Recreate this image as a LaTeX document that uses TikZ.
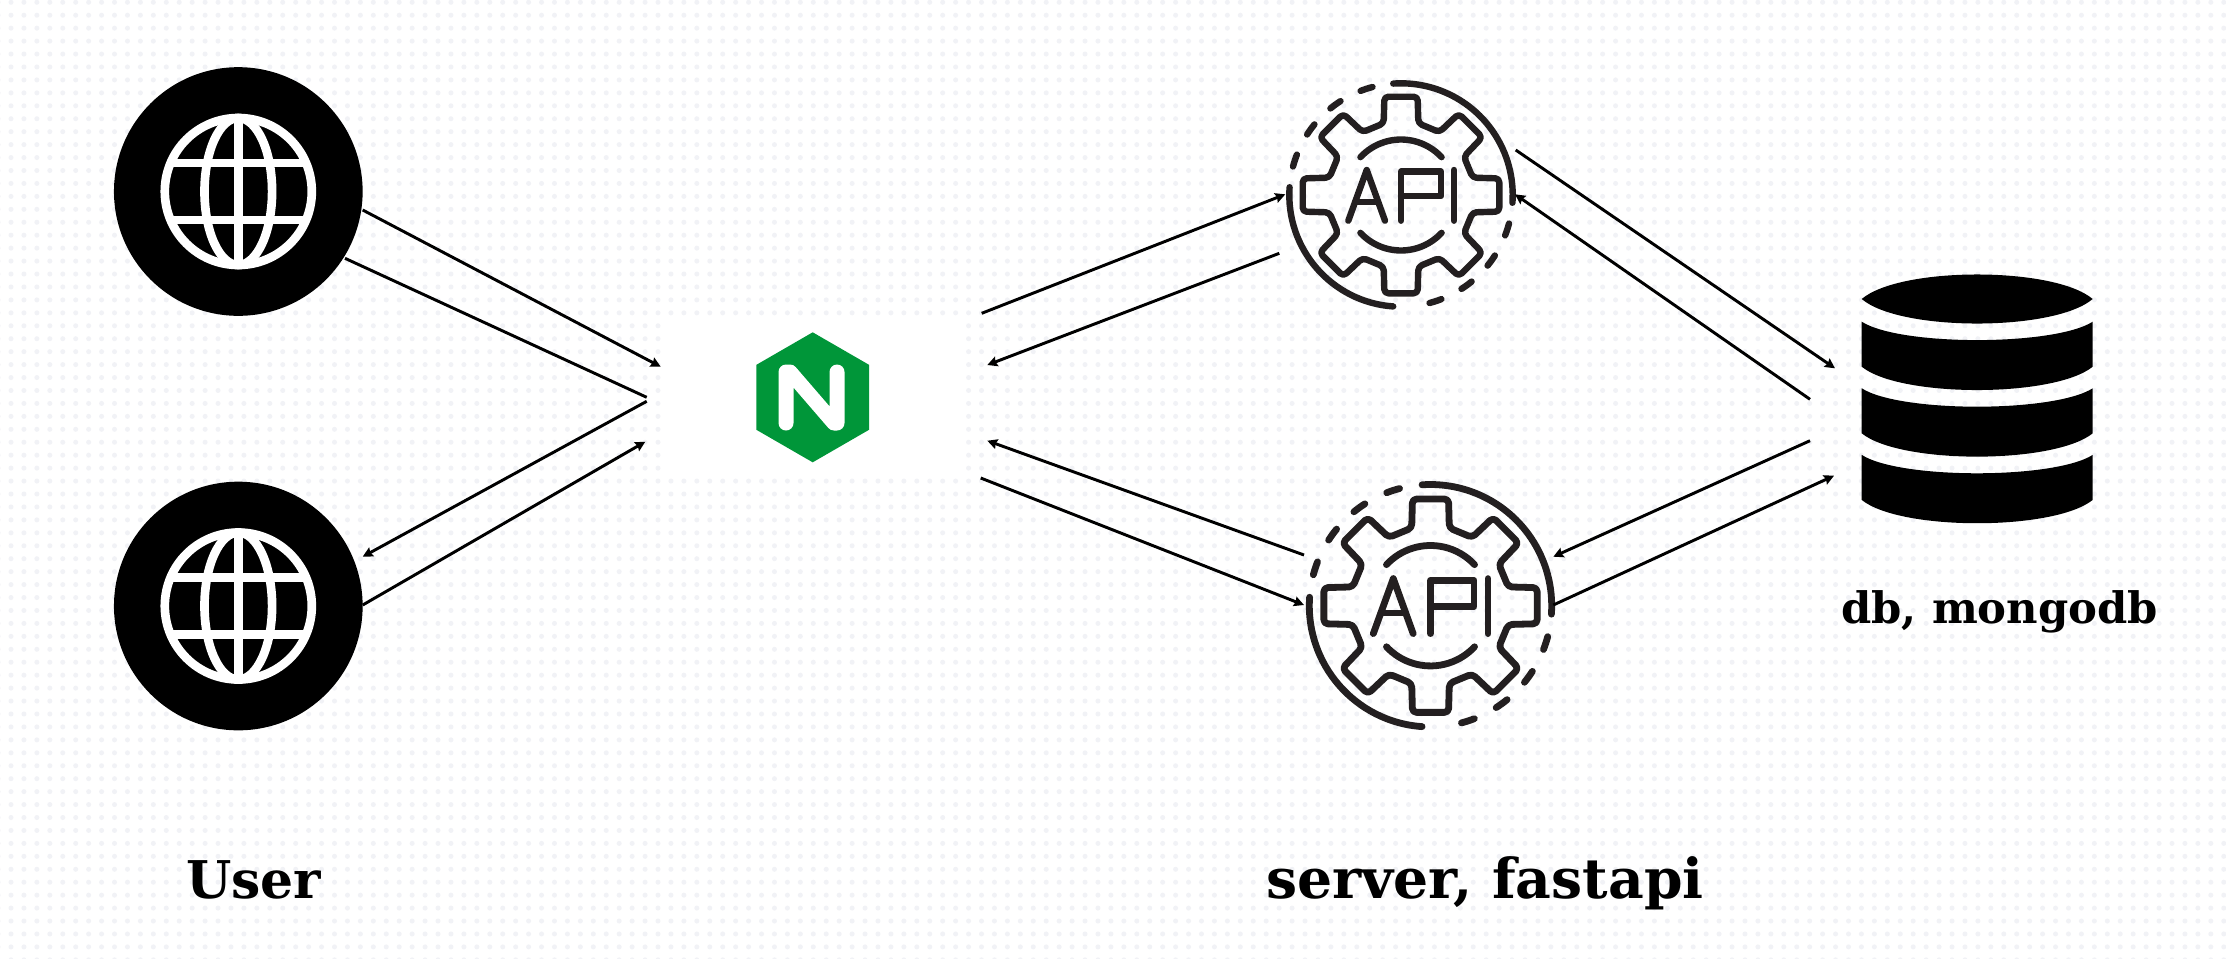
\documentclass[tikz,border=0pt]{standalone}
\usepackage{xcolor}
\usepackage{fontspec}
\setmainfont{DejaVu Serif}
\usetikzlibrary{arrows.meta,shapes.geometric,patterns}

\definecolor{griddotcol}{RGB}{241,242,246}
\definecolor{icondark}{RGB}{35,31,32}
\definecolor{nginxgreen}{RGB}{0,150,57}

\pgfdeclarepatternformonly{griddots}{\pgfqpoint{6pt}{6pt}}{\pgfqpoint{11pt}{11pt}}{\pgfqpoint{9.705pt}{9.705pt}}{
  \pgfpathcircle{\pgfqpoint{8.25pt}{8.32pt}}{1.875pt}
  \pgfusepath{fill}
}

\tikzset{
  griddot/.style={pattern=griddots,pattern color=griddotcol},
  userdisk/.style={circle,fill=black,inner sep=0pt,outer sep=0pt,minimum size=186.5pt},
  proxyhex/.style={regular polygon,regular polygon sides=6,shape border rotate=30,fill=nginxgreen,inner sep=0pt,outer sep=0pt,minimum size=97.5pt},
  flow/.style={line width=2.2pt,black},
  flowtip/.style={flow,-{Stealth[length=7.5pt,width=7.5pt,inset=1pt]}},
  globeline/.style={white,line width=6.5pt},
  iconline/.style={icondark,line width=4.8pt,line cap=round,line join=round},
  biglabel/.style={anchor=base west,inner sep=0pt,font=\fontsize{41.4}{46}\selectfont\bfseries},
  userlbl/.style={anchor=base west,inner sep=0pt,font=\fontsize{39}{44}\selectfont\bfseries},
  smalllabel/.style={anchor=base west,inner sep=0pt,font=\fontsize{32.5}{38}\selectfont\bfseries},
  globeicon/.pic={
    \draw[globeline] (0,0) circle (73.5);
    \draw[globeline] (0,0) ellipse (33.8 and 73.5);
    \draw[globeline] (0,-73.5) -- (0,73.5);
    \draw[globeline] (-67.7,-28.5) -- (67.7,-28.5);
    \draw[globeline] (-67.7,28.5) -- (67.7,28.5);
  },
  apiicon/.pic={
    %gear
    \draw[iconline,rounded corners=3pt] (103.6:73.7) -- (99.6:99.7) -- (80.4:99.7) -- (76.4:73.7)
      foreach \a in {-45,-90,...,-315} { -- ({\a+103.6}:73.7) -- ({\a+99.6}:99.7) -- ({\a+80.4}:99.7) -- ({\a+76.4}:73.7)} -- cycle;
    %inner arcs
    \draw[iconline] (137:55.5) arc[start angle=137,end angle=43,radius=55.5];
    \draw[iconline] (223:55.5) arc[start angle=223,end angle=317,radius=55.5];
    %outer ring
    \draw[iconline] (94:111.7) arc[start angle=94,end angle=-4,radius=111.7];
    \draw[iconline] (176:111.7) arc[start angle=176,end angle=266,radius=111.7];
    \foreach \a in {108,126,144,162,288,306,324,342}
      \draw[iconline] ({\a-3.2}:111.7) arc[start angle=\a-3.2,end angle=\a+3.2,radius=111.7];
    %letters
    \draw[iconline] (-52.7,-25.7) -- (-34.3,25) -- (-16,-25.7);
    \draw[iconline] (-45.7,-6.7) -- (-23,-6.7);
    \draw[iconline] (0,-25.7) -- (0,23.5) -- (40,23.5) -- (40,-1) -- (0,-1);
    \draw[iconline] (53,-25.7) -- (53,25);
  }
}

\begin{document}
\begin{tikzpicture}[x=0.75pt,y=0.75pt,yscale=-1,xscale=1]
\useasboundingbox (0,0) rectangle (2226,958);

%dotted page
\fill[white] (0,0) rectangle (2226,958);
\fill[griddot] (0,0) rectangle (2226,958);
\fill[white] (662,320) rectangle (964,475);

%Users
\node[userdisk] (user1) at (238.3,191.5) {};
\node[userdisk] (user2) at (238.3,606) {};
\pic at (user1) {globeicon};
\pic at (user2) {globeicon};

%Proxy
\node[proxyhex] (proxy) at (812.7,397.3) {};
\draw[white,line width=11.25pt,line cap=round,line join=round] (786,423) -- (786,372) -- (790,372) -- (834,423) -- (837,423) -- (837,372);

%Api
\coordinate (api1) at (1401,195);
\coordinate (api2) at (1430.5,605.7);
\pic at (api1) {apiicon};
\pic[scale=1.085,iconline/.append style={line width=5.1pt}] at (api2) {apiicon};

%Database
\coordinate (store) at (1977.2,399);
\fill[black] (1861.7,299) .. controls (1900,266.3) and (2054,266.3) .. (2092.7,299) .. controls (2054,331.7) and (1900,331.7) .. (1861.7,299) -- cycle;
\foreach \i in {0,1,2}
  \fill[black] (1861.7,{321.7+66.6*\i}) .. controls (1900,{346.2+66.6*\i}) and (2054,{346.2+66.6*\i}) .. (2092.7,{321.7+66.6*\i})
    -- (2092.7,{366.7+66.6*\i}) .. controls (2054,{397.8+66.6*\i}) and (1900,{397.8+66.6*\i}) .. (1861.7,{366.7+66.6*\i}) -- cycle;

%Ends of the lines
\coordinate (ua) at (362.7,210);
\coordinate (pa) at (660.7,366.7);
\coordinate (ub) at (345,258.3);
\coordinate (pb) at (646.7,397.3);
\coordinate (pc) at (646.7,401.3);
\coordinate (uc) at (362.7,556.7);
\coordinate (ud) at (362.7,605);
\coordinate (pd) at (645.3,441.7);
\coordinate (qa) at (981.7,313.3);
\coordinate (sa) at (1285.3,194.3);
\coordinate (sb) at (1279.3,253.3);
\coordinate (qb) at (987.3,365);
\coordinate (sc) at (1304,555);
\coordinate (qc) at (987.3,440.7);
\coordinate (qd) at (980.7,478);
\coordinate (sd) at (1304,605);
\coordinate (ta) at (1515.7,150);
\coordinate (da) at (1835,368.3);
\coordinate (db) at (1810,399.3);
\coordinate (tb) at (1515,194.3);
\coordinate (dc) at (1810,440.7);
\coordinate (tc) at (1553.3,556.7);
\coordinate (td) at (1553.3,605);
\coordinate (dd) at (1834,475.7);

%Straight Lines
\draw[flowtip] (ua) -- (pa);
\draw[flow] (ub) -- (pb);
\draw[flowtip] (pc) -- (uc);
\draw[flowtip] (ud) -- (pd);
\draw[flowtip] (qa) -- (sa);
\draw[flowtip] (sb) -- (qb);
\draw[flowtip] (sc) -- (qc);
\draw[flowtip] (qd) -- (sd);
\draw[flowtip] (ta) -- (da);
\draw[flowtip] (db) -- (tb);
\draw[flowtip] (dc) -- (tc);
\draw[flowtip] (td) -- (dd);

% Text Node
\node[userlbl] (userlabel) at (186,898) {User};
% Text Node
\node[biglabel] (serverlabel) at (1266,898) {server, fastapi};
% Text Node
\node[smalllabel] (dblabel) at (1841,623) {db, mongodb};

\end{tikzpicture}
\end{document}
